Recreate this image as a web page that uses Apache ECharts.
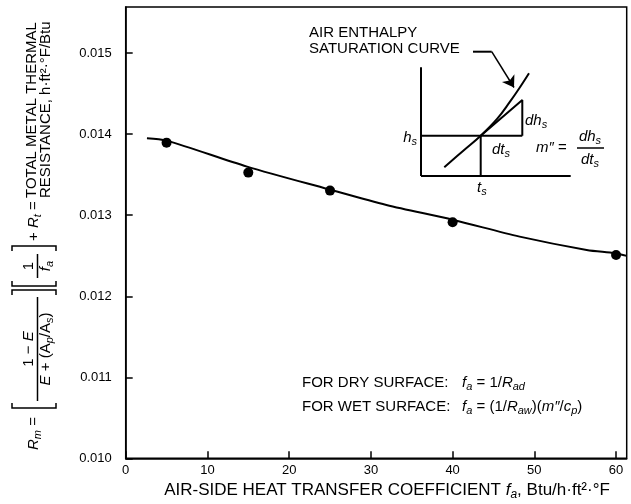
<!DOCTYPE html>
<html>
<head>
<meta charset="utf-8">
<script src="https://cdn.jsdelivr.net/npm/echarts@6/dist/echarts.min.js"></script>
<style>
html, body { margin: 0; padding: 0; background: #fff; }
#chart { width: 631px; height: 504px; }
</style>
</head>
<body>
<div id="chart"></div>
<script>
// 测点
var pointX = [5, 15, 25, 40, 60];
var pointY = [0.013896, 0.013526, 0.013304, 0.012914, 0.01251];
// 拟合曲线
var curveX = [2.6, 5, 14.85, 24.8, 31.9, 40.1, 48.2, 56.4, 59.9, 61.3];
var curveY = [0.013951, 0.013921, 0.0136, 0.013321, 0.013127, 0.012942, 0.012736, 0.012572, 0.012531, 0.012498];
// 刻度
var xTickValues = [0, 10, 20, 30, 40, 50, 60];
var yTickLabels = ['0.010', '0.011', '0.012', '0.013', '0.014', '0.015'];

// 小图 (inset schematic, its own units)
var insetAxisH = [[0, 0], [149.7, 0]];
var insetAxisV = [[0, 0], [0, 108.7]];
var insetHsLine = [[0, 40.3], [101.3, 40.3]];
var insetTsLine = [[59.7, 0], [59.7, 40.3]];
var insetTriangle = [[59.7, 40.3], [101.3, 76], [101.3, 40.3]];
var insetCurve = [[23.3, 8.7], [42.3, 25.3], [59.7, 40.3], [76.3, 57.3], [89, 74.3], [98.3, 87.7], [108, 102.7]];
var insetLeader = [[52, 124.3], [70.7, 124.3]];
var insetArrow = [[70.7, 124.3], [93, 88.5]];

var FONT = '"Liberation Sans", Arial, Helvetica, sans-serif';
function richOf(size) {
  return {
    n: { fontSize: size, fontFamily: FONT, lineHeight: size + 4 },
    i: { fontSize: size, fontFamily: FONT, fontStyle: 'italic', lineHeight: size + 4 },
    s: { fontSize: Math.round(size * 0.72), fontFamily: FONT, fontStyle: 'italic', lineHeight: Math.round(size * 0.72), verticalAlign: 'bottom' }
  };
}

function txt(x, y, text, align, size) {
  size = size || 15;
  return {
    type: 'text', x: x, y: y, silent: true,
    style: {
      text: text, rich: richOf(size), fill: '#000', font: size + 'px ' + FONT,
      align: align || 'left', verticalAlign: 'middle',
      textAlign: align || 'left', textVerticalAlign: 'middle'
    }
  };
}
function seg(x1, y1, x2, y2) {
  return { type: 'line', silent: true, shape: { x1: x1, y1: y1, x2: x2, y2: y2 }, style: { stroke: '#000', lineWidth: 1.5 } };
}
function poly(pts) {
  return { type: 'polyline', silent: true, shape: { points: pts }, style: { stroke: '#000', fill: null, lineWidth: 1.5 } };
}
// 方括号 (bracket along u from u0 to u1)
function brackets(u0, u1) {
  return [
    poly([[u0 + 5, 12], [u0, 12], [u0, 56], [u0 + 5, 56]]),
    poly([[u1 - 5, 12], [u1, 12], [u1, 56], [u1 - 5, 56]])
  ];
}

var chart = echarts.init(document.getElementById('chart'));

var blackLine = { color: '#000', width: 2 };
function insetLine(data, smooth) {
  return {
    type: 'line', xAxisIndex: 1, yAxisIndex: 1, data: data, symbol: 'none',
    smooth: smooth || false, lineStyle: blackLine, silent: true
  };
}

var option = {
  backgroundColor: '#fff',
  animation: false,
  grid: [
    { left: 125.7, top: 7, right: 4.3, bottom: 45.7, show: true, borderColor: '#000', borderWidth: 1.5, outerBoundsMode: 'none', containLabel: false },
    { left: 421, top: 40, width: 150, height: 136, outerBoundsMode: 'none' }
  ],
  xAxis: [
    {
      type: 'value', gridIndex: 0, min: 0, max: 61.3, interval: 10,
      axisLine: { lineStyle: { color: '#000', width: 1.5 } },
      axisTick: { inside: true, length: 7, lineStyle: { color: '#000', width: 1.5 } },
      axisLabel: {
        color: '#000', fontSize: 13, fontFamily: FONT, margin: 6, showMaxLabel: false,
        formatter: function (v) { return xTickValues.indexOf(v) >= 0 ? String(v) : ''; }
      },
      splitLine: { show: false }
    },
    { type: 'value', gridIndex: 1, min: 0, max: 150, show: false }
  ],
  yAxis: [
    {
      type: 'value', gridIndex: 0, min: 0.010, max: 0.01557, interval: 0.001,
      axisLine: { lineStyle: { color: '#000', width: 1.5 } },
      axisTick: { inside: true, length: 7, lineStyle: { color: '#000', width: 1.5 } },
      axisLabel: {
        color: '#000', fontSize: 13, fontFamily: FONT, margin: 14, showMaxLabel: false,
        formatter: function (v) { var s = v.toFixed(3); return yTickLabels.indexOf(s) >= 0 ? s : ''; }
      },
      splitLine: { show: false }
    },
    { type: 'value', gridIndex: 1, min: 0, max: 136, show: false }
  ],
  series: [
    {
      type: 'line', xAxisIndex: 0, yAxisIndex: 0, symbol: 'none', smooth: 0.3,
      data: curveX.map(function (x, k) { return [x, curveY[k]]; }),
      lineStyle: blackLine
    },
    {
      type: 'scatter', xAxisIndex: 0, yAxisIndex: 0, symbolSize: 10,
      data: pointX.map(function (x, k) { return [x, pointY[k]]; }),
      itemStyle: { color: '#000', opacity: 1 }
    },
    insetLine(insetAxisH),
    insetLine(insetAxisV),
    insetLine(insetHsLine),
    insetLine(insetTsLine),
    insetLine(insetTriangle),
    insetLine(insetCurve, 0.4),
    insetLine(insetLeader),
    {
      type: 'lines', coordinateSystem: 'cartesian2d', xAxisIndex: 1, yAxisIndex: 1,
      symbol: ['none', 'arrow'], symbolSize: 11, silent: true,
      lineStyle: { color: '#000', width: 1.5, opacity: 1, curveness: 0 },
      data: [{ coords: insetArrow }]
    }
  ],
  graphic: [
    txt(387, 490, '{n|AIR-SIDE HEAT TRANSFER COEFFICIENT }{i|f}{s|a}{n|, Btu/h·ft²·°F}', 'center', 17),
    txt(309, 33, '{n|AIR ENTHALPY}'),
    txt(309, 48.5, '{n|SATURATION CURVE}'),
    txt(417, 138, '{i|h}{s|s}', 'right'),
    txt(525, 121, '{i|dh}{s|s}'),
    txt(492, 150, '{i|dt}{s|s}'),
    txt(536, 148, '{i|m″}{n| =}'),
    txt(590, 137, '{i|dh}{s|s}', 'center'),
    seg(577, 148, 604, 148),
    txt(590, 160, '{i|dt}{s|s}', 'center'),
    txt(477, 188, '{i|t}{s|s}'),
    txt(302, 383, '{n|FOR DRY SURFACE:}'),
    txt(462, 383, '{i|f}{s|a}{n| = 1/}{i|R}{s|ad}'),
    txt(302, 407, '{n|FOR WET SURFACE:}'),
    txt(462, 407, '{i|f}{s|a}{n| = (1/}{i|R}{s|aw}{n|)(}{i|m″}{n|/}{i|c}{s|p}{n|)}'),
    {
      type: 'group', x: 0, y: 458, rotation: Math.PI / 2,
      children: [
        txt(8, 34, '{i|R}{s|m}{n| =}'),
        txt(109, 29, '{n|1 − }{i|E}', 'center'),
        seg(57, 37.5, 161, 37.5),
        txt(109, 46, '{i|E}{n| + (A}{s|p}{n|/A}{s|s}{n|)}', 'center'),
        txt(192, 29, '{n|1}', 'center'),
        seg(180, 37.5, 204, 37.5),
        txt(192, 46, '{i|f}{s|a}', 'center'),
        txt(217, 34, '{n|+ }{i|R}{s|t}{n| =}'),
        txt(260, 32, '{n|TOTAL METAL THERMAL}'),
        txt(260, 46, '{n|RESISTANCE, h·ft²·°F/Btu}')
      ].concat(brackets(50, 168), brackets(172, 212))
    }
  ]
};

chart.setOption(option);
</script>
</body>
</html>
